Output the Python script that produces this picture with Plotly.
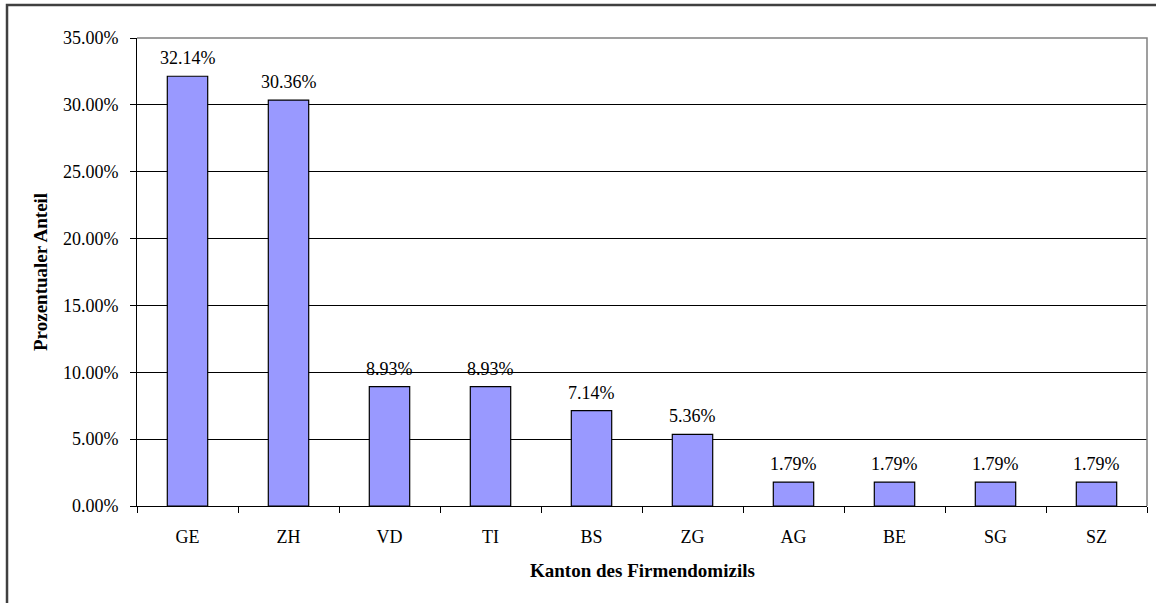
import plotly.graph_objects as go

# Anteil der Firmen je Kanton (in %)
kantone = ["GE", "ZH", "VD", "TI", "BS", "ZG", "AG", "BE", "SG", "SZ"]
anteil = [32.14, 30.36, 8.93, 8.93, 7.14, 5.36, 1.79, 1.79, 1.79, 1.79]
y_ticks = [0, 5, 10, 15, 20, 25, 30, 35]

serif = "Liberation Serif"

fig = go.Figure()

fig.add_trace(go.Bar(
    x=kantone, y=anteil,
    marker=dict(color="#9999FF", line=dict(color="#000000", width=1.2)),
    showlegend=False,
))

# value labels above the bars
for k, v in zip(kantone, anteil):
    fig.add_annotation(x=k, y=v, text=f"{v:.2f}%", showarrow=False,
                       yanchor="bottom", yshift=6,
                       font=dict(family=serif, size=18, color="#000000"))

# axis titles
fig.add_annotation(x=0.5, y=0, xref="paper", yref="paper", yshift=-64,
                   text="<b>Kanton des Firmendomizils</b>", showarrow=False,
                   yanchor="middle", font=dict(family=serif, size=19, color="#000000"))
fig.add_annotation(x=0, y=0.5, xref="paper", yref="paper", xshift=-97,
                   text="<b>Prozentualer Anteil</b>", showarrow=False, textangle=-90,
                   xanchor="center", font=dict(family=serif, size=19, color="#000000"))

# plot-area border (top/right in grey) and the outer chart border
fig.add_shape(type="path", path="M 0,1 L 1,1 L 1,0", xref="paper", yref="paper",
              line=dict(color="#808080", width=1.5), layer="above")
fig.add_shape(type="rect", x0=-0.1287, x1=1.05, y0=-0.4, y1=1.0705,
              xref="paper", yref="paper", line=dict(color="#404040", width=2.5), layer="above")

fig.update_layout(
    width=1156, height=603,
    margin=dict(l=137, r=9, t=38, b=97),
    paper_bgcolor="white", plot_bgcolor="white",
    bargap=0.6,
    font=dict(family=serif, size=18, color="#000000"),
)
fig.update_xaxes(
    showline=True, linecolor="#000000", linewidth=1,
    ticks="outside", tickson="boundaries", ticklen=6, tickcolor="#000000",
    ticklabelstandoff=14, tickfont=dict(family=serif, size=18),
    showgrid=False,
)
fig.update_yaxes(
    range=[0, 35], tickvals=y_ticks, ticktext=[f"{t:.2f}%" for t in y_ticks],
    showline=True, linecolor="#000000", linewidth=1,
    ticks="outside", ticklen=6, tickcolor="#000000",
    ticklabelstandoff=8, tickfont=dict(family=serif, size=18),
    showgrid=True, gridcolor="#000000", gridwidth=1, zeroline=False,
)

# page has a default 8px body margin; remove it so the figure sits at 0,0
fig.write_html("out.html", config={"displayModeBar": False},
               post_script="document.body.style.margin='0px';")
